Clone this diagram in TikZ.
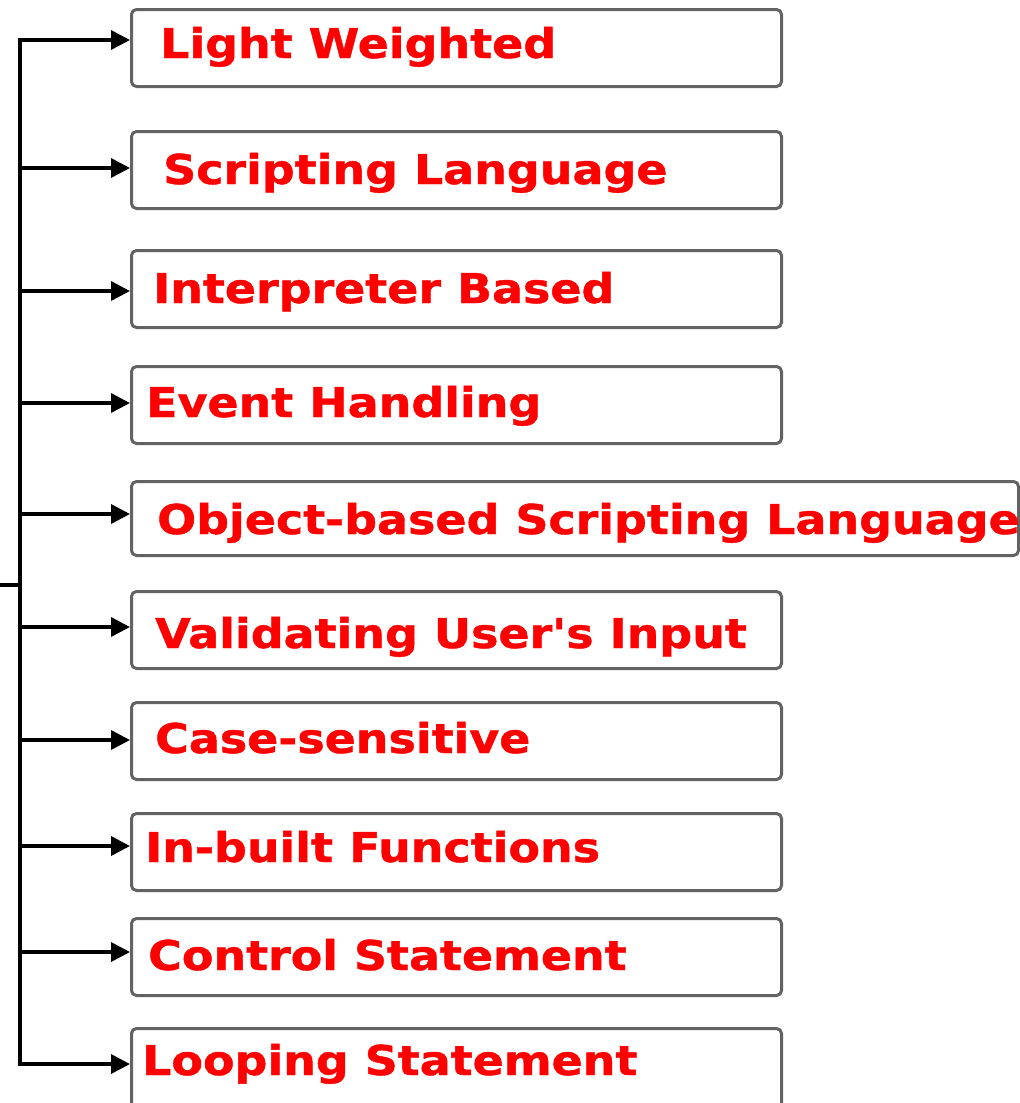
\documentclass[tikz,border=0pt]{standalone}
\usepackage{fontspec}
\newfontfamily\featfont{DejaVu Sans Bold}[FakeBold=1]
\usetikzlibrary{arrows.meta}
\definecolor{boxgray}{HTML}{636363}
\newcommand{\wtxt}[1]{\scalebox{1.12}[1]{#1}}
\tikzset{
  feat/.style={draw=boxgray, line width=3pt, rounded corners=5pt, minimum height=77pt, anchor=north west, inner sep=0pt},
  txt/.style={anchor=base west, inner sep=0pt, text=red, font=\featfont\fontsize{41}{41}\selectfont},
  link/.style={line width=3.5pt, -{Triangle[length=19pt,width=19pt]}}
}
\begin{document}
\begin{tikzpicture}[x=1pt,y=-1pt]
  \useasboundingbox (0,0) rectangle (1020,1103);
  % boxes
  \node[feat, minimum width=650pt] (b1) at (130,8) {};
  \node[feat, minimum width=650pt] (b2) at (130,130) {};
  \node[feat, minimum width=650pt] (b3) at (130,249) {};
  \node[feat, minimum width=650pt] (b4) at (130,365) {};
  \node[feat, minimum width=887pt, minimum height=74pt] (b5) at (130,480) {};
  \node[feat, minimum width=650pt] (b6) at (130,590) {};
  \node[feat, minimum width=650pt] (b7) at (130,701) {};
  \node[feat, minimum width=650pt] (b8) at (130,812) {};
  \node[feat, minimum width=650pt] (b9) at (130,917) {};
  \node[feat, minimum width=650pt, minimum height=80pt] (b10) at (130,1027) {};
  % labels
  \node[txt] (t1) at (160,58) {\wtxt{Light Weighted}};
  \node[txt] (t2) at (163,184) {\wtxt{Scripting Language}};
  \node[txt] (t3) at (153,303) {\wtxt{Interpreter Based}};
  \node[txt] (t4) at (146,417) {\wtxt{Event Handling}};
  \node[txt] (t5) at (157,534) {\wtxt{Object-based Scripting Language}};
  \node[txt] (t6) at (155,648) {\wtxt{Validating User\textquotesingle s Input}};
  \node[txt] (t7) at (155,753) {\wtxt{Case-sensitive}};
  \node[txt] (t8) at (145,862) {\wtxt{In-built Functions}};
  \node[txt] (t9) at (148,970) {\wtxt{Control Statement}};
  \node[txt] (t10) at (142,1075) {\wtxt{Looping Statement}};
  % trunk
  \coordinate (top) at (20,38);
  \coordinate (bot) at (20,1066);
  \coordinate (stub) at (0,585);
  \draw[line width=3.5pt] (top) -- (bot);
  \draw[line width=3.5pt] (stub) -- (stub -| top);
  \foreach \i/\y in {1/40,2/168,3/291,4/403,5/514,6/627,7/740,8/846,9/952,10/1064}{
    \coordinate (a\i) at (20,\y);
    \draw[link] (a\i) -- (a\i -| b\i.west);
  }
\end{tikzpicture}
\end{document}
